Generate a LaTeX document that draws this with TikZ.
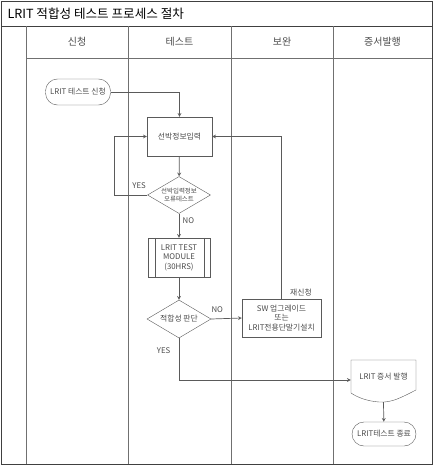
\documentclass[tikz,border=0pt]{standalone}
\usepackage{fontspec}
\setmainfont{Noto Sans CJK KR}
\usetikzlibrary{shapes.geometric, arrows}
\definecolor{linegray}{HTML}{5A5A5A}
\definecolor{framegray}{HTML}{404040}
\definecolor{lanegray}{HTML}{707070}
\definecolor{textgray}{HTML}{4A4A4A}
\tikzstyle{startstop} = [rectangle, rounded corners=12pt, minimum width=65pt, minimum height=26pt, text centered, draw=linegray]
\tikzstyle{process} = [rectangle, minimum width=65pt, minimum height=39pt, text centered, draw=linegray]
\tikzstyle{predef} = [rectangle, minimum width=62pt, minimum height=39pt, text centered, draw=linegray]
\tikzstyle{decision} = [diamond, aspect=1.7, inner sep=0pt, minimum width=63pt, minimum height=37pt, text centered, draw=linegray]
\tikzstyle{docbox} = [rectangle, minimum width=65pt, minimum height=36pt, text centered]
\tikzstyle{lane} = [font=\fontsize{10}{12}\selectfont, text=textgray]
\tikzstyle{arrow} = [->,>=stealth, draw=linegray, line width=0.7pt]

\begin{document}
\begin{tikzpicture}[x=1pt, y=-1pt, every node/.style={font=\fontsize{7.8}{9.5}\selectfont, text=textgray, align=center}]
\useasboundingbox (0,0) rectangle (435,466);
% frame and lanes
\draw[framegray, line width=1pt] (1.5,1.5) rectangle (432,464);
\draw[framegray, line width=1pt] (1.5,26) -- (432,26);
\draw[lanegray, line width=1pt] (26,58) -- (432,58);
\foreach \x in {26,128,231,333}
  \draw[lanegray, line width=1pt] (\x,26) -- (\x,464);
\node (title) [anchor=west, font=\fontsize{12.6}{14}\selectfont, text=black] at (4,14) {LRIT 적합성 테스트 프로세스 절차};
\node (lane1) [lane] at (77,42) {신청};
\node (lane2) [lane] at (179.5,42) {테스트};
\node (lane3) [lane] at (282,42) {보완};
\node (lane4) [lane] at (382.5,42) {증서발행};
% flow
\node (start) [startstop] at (78,92) {LRIT 테스트 신청};
\node (input) [process] at (179.5,136.5) {선박정보입력};
\node (check) [decision, font=\fontsize{6.5}{8}\selectfont] at (179,195) {선박입력정보\\오류테스트};
\node (module) [predef] at (179,257.5) {LRIT TEST\\MODULE\\(30HRS)};
\draw[linegray] ([xshift=7pt]module.north west) -- ([xshift=7pt]module.south west);
\draw[linegray] ([xshift=-6pt]module.north east) -- ([xshift=-6pt]module.south east);
\node (judge) [decision, minimum width=64pt, minimum height=38pt] at (179,319) {적합성 판단};
\node (fix) [process, minimum width=79pt, minimum height=38pt] at (281.5,318) {SW 업그레이드\\또는\\LRIT전용단말기설치};
\node (cert) [docbox] at (383.5,377) {LRIT 증서 발행};
\draw[linegray] (351,393) -- (351,360) -- (416,360) -- (416,390)
  .. controls (402,397) and (392,403) .. (379,402)
  .. controls (366,401) and (357,397) .. (351,393);
\node (stop) [startstop, minimum width=64pt, minimum height=24pt] at (384,434) {LRIT테스트 종료};
\draw [arrow] (start.east) -| (input.north);
\draw [arrow] (input) -- (check);
\draw [arrow] (check.west) -- node[above=3pt, pos=0.25] {YES} ++(-33,0) |- (input.west);
\draw [arrow] (check.south) -- node[right, pos=0.3] {NO} (module.north);
\draw [arrow] (module) -- (judge);
\draw [arrow] (judge.east) -- node[above=3pt, pos=0.2] {NO} (fix.west);
\draw [arrow] (fix.north) |- node[right, pos=0.02, xshift=5pt] {재신청} (input.east);
\draw [arrow] (judge.south) |- node[left, pos=0.15, xshift=-5pt] {YES} ([yshift=-3pt]cert.west);
\draw [arrow] ([yshift=-7pt]cert.south) -- (stop);
\end{tikzpicture}
\end{document}
